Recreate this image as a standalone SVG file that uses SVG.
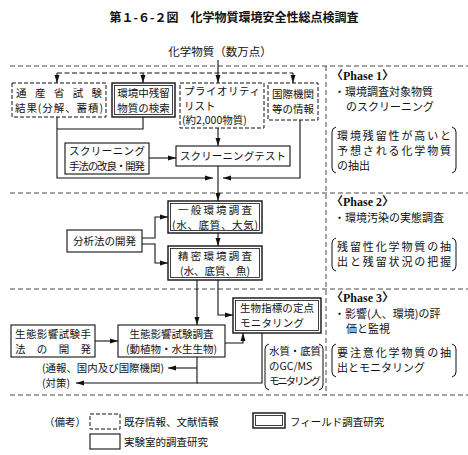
<svg xmlns="http://www.w3.org/2000/svg" width="468" height="455" viewBox="0 0 468 455">
<defs>
<style>
text{font-family:"Noto Sans CJK JP","Noto Sans CJK SC",sans-serif;font-size:10.5px;fill:#111}
.t{font-size:12px;font-weight:bold}
.r{font-size:11px}
.m{font-size:11.5px}
.ph{font-family:"Liberation Serif","Noto Sans CJK JP",serif;font-weight:bold;font-size:12px}
.dash{fill:#fff;stroke:#111;stroke-width:1;stroke-dasharray:4 2}
.sol{fill:#fff;stroke:#111;stroke-width:1.1}
.dbl{fill:#fff;stroke:#111;stroke-width:1.4}
.dbi{fill:none;stroke:#111;stroke-width:0.8}
.ln{fill:none;stroke:#111;stroke-width:1.1}
.dl{fill:none;stroke:#111;stroke-width:1.1;stroke-dasharray:5 2.5}
.sep{fill:none;stroke:#333;stroke-width:0.9;stroke-dasharray:5 3}
.br{fill:none;stroke:#111;stroke-width:1}
</style>
<marker id="a" markerWidth="8" markerHeight="6" refX="8" refY="3" orient="auto" markerUnits="userSpaceOnUse">
<path d="M0,0.5 L8,3 L0,5.5 z" fill="#111"/>
</marker>
</defs>
<rect width="468" height="455" fill="#fff"/>
<text class="t" x="234" y="22" text-anchor="middle">第１-６-２図　化学物質環境安全性総点検調査</text>
<text class="m" x="220" y="56" text-anchor="middle">化学物質（数万点）</text>

<g id="separators">
<path class="sep" d="M10,66 H468 M10,193 H468 M10,289 H468 M10,395 H468 M326,66 V395"/>
</g>

<g id="connectors">
<path class="ln" d="M218,60 V83" marker-end="url(#a)"/>
<path class="dl" d="M57,73 H293"/>
<path class="dl" d="M57,73 V83" marker-end="url(#a)"/>
<path class="dl" d="M143,73 V83" marker-end="url(#a)"/>
<path class="dl" d="M293,73 V83" marker-end="url(#a)"/>
<path class="ln" d="M57,117 V178 H213" marker-end="url(#a)"/>
<path class="ln" d="M143,117 V129 H57"/>
<path class="ln" d="M300,120 V178 H223" marker-end="url(#a)"/>
<path class="ln" d="M218,128 V146" marker-end="url(#a)"/>
<path class="ln" d="M149,158 H176" marker-end="url(#a)"/>
<path class="ln" d="M218,166 V201" marker-end="url(#a)"/>
<path class="ln" d="M218,233 V246" marker-end="url(#a)"/>
<path class="ln" d="M142,238 H155 V217 H168" marker-end="url(#a)"/>
<path class="ln" d="M142,244 H155 V263 H168" marker-end="url(#a)"/>
<path class="ln" d="M197,280 V325" marker-end="url(#a)"/>
<path class="ln" d="M218,280 V315 H233" marker-end="url(#a)"/>
<path class="ln" d="M95,341 H118" marker-end="url(#a)"/>
<path class="ln" d="M225,343 H243 V333" marker-end="url(#a)"/>
<path class="ln" d="M197,357 V383 H76" marker-end="url(#a)"/>
<path class="ln" d="M197,368 H168" marker-end="url(#a)"/>
<path class="ln" d="M262,333 V383 H197"/>
</g>

<g id="n-tsusan">
<rect class="dash" x="12" y="83" width="94" height="34"/>
<text x="16" y="97" textLength="86" lengthAdjust="spacing">通産省試験</text>
<text x="15" y="112" textLength="88" lengthAdjust="spacing">結果(分解、蓄積)</text>
</g>
<g id="n-kankyochu">
<rect class="dbl" x="112" y="83" width="63" height="34"/>
<rect class="dbi" x="114.5" y="85.5" width="58" height="29"/>
<text x="143.5" y="97" text-anchor="middle">環境中残留</text>
<text x="143.5" y="112" text-anchor="middle">物質の検索</text>
</g>
<g id="n-priority">
<rect class="dash" x="180" y="83" width="84" height="45"/>
<text x="184" y="95" font-size="10" textLength="76" lengthAdjust="spacing">プライオリティ</text>
<text x="184" y="110" font-size="10">リスト</text>
<text x="182" y="124" font-size="10">(約2,000物質)</text>
</g>
<g id="n-kokusai">
<rect class="dash" x="268" y="83" width="50" height="37"/>
<text x="293" y="98" text-anchor="middle">国際機関</text>
<text x="293" y="113" text-anchor="middle">等の情報</text>
</g>
<g id="n-shuho">
<rect class="sol" x="65" y="143" width="84" height="31"/>
<text x="69" y="155" textLength="76" lengthAdjust="spacing">スクリーニング</text>
<text x="69" y="170" textLength="76" lengthAdjust="spacing">手法の改良・開発</text>
</g>
<g id="n-test">
<rect class="sol" x="176" y="146" width="114" height="20"/>
<text x="180" y="160" textLength="106" lengthAdjust="spacing">スクリーニングテスト</text>
</g>

<g id="n-ippan">
<rect class="dbl" x="168" y="201" width="94" height="32"/>
<rect class="dbi" x="170.5" y="203.5" width="89" height="27"/>
<text x="178" y="214" textLength="74" lengthAdjust="spacing">一般環境調査</text>
<text x="172" y="229" textLength="86" lengthAdjust="spacing">(水、底質、大気)</text>
</g>
<g id="n-seimitsu">
<rect class="dbl" x="168" y="246" width="94" height="34"/>
<rect class="dbi" x="170.5" y="248.5" width="89" height="29"/>
<text x="178" y="260" textLength="74" lengthAdjust="spacing">精密環境調査</text>
<text x="180" y="275" textLength="70" lengthAdjust="spacing">(水、底質、魚)</text>
</g>
<g id="n-bunseki">
<rect class="sol" x="67" y="230" width="75" height="22"/>
<text x="104.5" y="245" text-anchor="middle">分析法の開発</text>
</g>

<g id="n-seibutsu">
<rect class="dbl" x="233" y="298" width="88" height="35"/>
<rect class="dbi" x="235.5" y="300.5" width="83" height="30"/>
<text x="240" y="312" textLength="74" lengthAdjust="spacing">生物指標の定点</text>
<text x="240" y="327" textLength="64" lengthAdjust="spacing">モニタリング</text>
</g>
<g id="n-shuho3">
<rect class="sol" x="11" y="325" width="84" height="32"/>
<text x="15" y="338" textLength="76" lengthAdjust="spacing">生態影響試験手</text>
<text x="15" y="353" textLength="76" lengthAdjust="spacing">法の開発</text>
</g>
<g id="n-chosa">
<rect class="sol" x="118" y="325" width="107" height="32"/>
<text x="171.5" y="338" text-anchor="middle">生態影響試験調査</text>
<text x="171.5" y="353" text-anchor="middle">(動植物・水生生物)</text>
</g>
<g id="n-tsuho">
<text x="42" y="372" textLength="122" lengthAdjust="spacingAndGlyphs">(通報、国内及び国際機関)</text>
</g>
<g id="n-taisaku">
<text x="42" y="387">(対策)</text>
</g>
<g id="n-gcms">
<path class="br" d="M269,344 Q265,345 265,349 V385 Q265,389 269,390"/>
<path class="br" d="M319,344 Q323,345 323,349 V385 Q323,389 319,390"/>
<text x="269" y="355" textLength="52" lengthAdjust="spacing">水質・底質</text>
<text x="269" y="370" font-family="Liberation Serif,Noto Sans CJK JP,serif" font-size="12">のGC/MS</text>
<text x="269" y="385" textLength="52" lengthAdjust="spacing">モニタリング</text>
</g>

<g id="phase1">
<text class="ph" x="331" y="80">〈Phase 1〉</text>
<text class="r" x="334" y="96">・環境調査対象物質</text>
<text class="r" x="346" y="111">のスクリーニング</text>
<path class="br" d="M336,127 Q332,128 332,132 V168 Q332,172 336,173"/>
<path class="br" d="M452,127 Q456,128 456,132 V168 Q456,172 452,173"/>
<text class="r" x="337" y="140" textLength="114" lengthAdjust="spacing">環境残留性が高いと</text>
<text class="r" x="337" y="155" textLength="114" lengthAdjust="spacing">予想される化学物質</text>
<text class="r" x="337" y="170">の抽出</text>
</g>
<g id="phase2">
<text class="ph" x="331" y="206">〈Phase 2〉</text>
<text class="r" x="334" y="222">・環境汚染の実態調査</text>
<path class="br" d="M336,238 Q332,239 332,243 V266 Q332,270 336,271"/>
<path class="br" d="M452,238 Q456,239 456,243 V266 Q456,270 452,271"/>
<text class="r" x="337" y="251" textLength="114" lengthAdjust="spacing">残留性化学物質の抽</text>
<text class="r" x="337" y="266" textLength="114" lengthAdjust="spacing">出と残留状況の把握</text>
</g>
<g id="phase3">
<text class="ph" x="331" y="302">〈Phase 3〉</text>
<text class="r" x="334" y="318">・影響(人、環境)の評</text>
<text class="r" x="346" y="333">価と監視</text>
<path class="br" d="M336,344 Q332,345 332,349 V372 Q332,376 336,377"/>
<path class="br" d="M452,344 Q456,345 456,349 V372 Q456,376 452,377"/>
<text class="r" x="337" y="357" textLength="114" lengthAdjust="spacing">要注意化学物質の抽</text>
<text class="r" x="337" y="372">出とモニタリング</text>
</g>

<g id="legend">
<text x="44" y="426">（備考）</text>
<rect class="dash" x="90" y="414" width="30" height="15"/>
<text x="124" y="426">既存情報、文献情報</text>
<rect class="dbl" x="253" y="413" width="32" height="15"/>
<rect class="dbi" x="255.5" y="415.5" width="27" height="10"/>
<text x="290" y="426">フィールド調査研究</text>
<rect class="sol" x="90" y="434" width="30" height="15"/>
<text x="124" y="446">実験室的調査研究</text>
</g>
</svg>
